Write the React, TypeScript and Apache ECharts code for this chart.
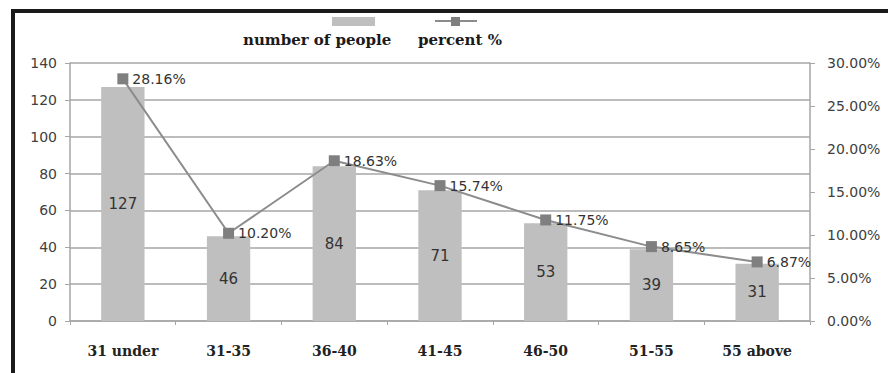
import React, { useEffect, useRef } from "react";
import * as echarts from "echarts";

const categories = ["31 under", "31-35", "36-40", "41-45", "46-50", "51-55", "55 above"];
const peopleCounts = [127, 46, 84, 71, 53, 39, 31];
const percentValues = [28.16, 10.2, 18.63, 15.74, 11.75, 8.65, 6.87];
const leftTicks = { min: 0, max: 140, interval: 20 };
const rightTicks = { min: 0, max: 30, interval: 5 };

export default function App() {
  const ref = useRef<HTMLDivElement>(null);
  useEffect(() => {
    if (!ref.current) return;
    const chart = echarts.init(ref.current, null, { renderer: "svg" });
    const axisGray = "#a6a6a6";
    const labelColor = "#404040";
    const sans = "'DejaVu Sans', sans-serif";
    const serif = "'DejaVu Serif', serif";
    chart.setOption({
      animation: false,
      backgroundColor: "#ffffff",
      grid: { left: 70, right: 78, top: 63, bottom: 52, containLabel: false },
      xAxis: {
        type: "category",
        data: categories,
        axisLine: { show: true, lineStyle: { color: axisGray, width: 1.5 } },
        axisTick: { show: true, length: 4, lineStyle: { color: axisGray } },
        axisLabel: {
          color: "#222",
          fontFamily: serif,
          fontWeight: "bold",
          fontSize: 14,
          margin: 23,
        },
        splitLine: { show: false },
      },
      yAxis: [
        {
          type: "value",
          ...leftTicks,
          axisLine: { show: true, lineStyle: { color: axisGray, width: 1.5 } },
          axisTick: { show: true, length: 5, lineStyle: { color: axisGray } },
          axisLabel: { color: labelColor, fontFamily: sans, fontSize: 14, margin: 13 },
          splitLine: { show: true, lineStyle: { color: axisGray, width: 1.5 } },
        },
        {
          type: "value",
          ...rightTicks,
          position: "right",
          axisLine: { show: true, lineStyle: { color: axisGray, width: 1.5 } },
          axisTick: { show: true, length: 5, lineStyle: { color: axisGray } },
          axisLabel: {
            color: labelColor,
            fontFamily: sans,
            fontSize: 14,
            margin: 17,
            formatter: (v: number) => v.toFixed(2) + "%",
          },
          splitLine: { show: false },
        },
      ],
      series: [
        {
          name: "number of people",
          type: "bar",
          data: peopleCounts,
          barWidth: "41%",
          itemStyle: { color: "#bfbfbf" },
          label: {
            show: true,
            position: "inside",
            color: "#333",
            fontFamily: sans,
            fontSize: 15,
          },
        },
        {
          name: "percent %",
          type: "line",
          yAxisIndex: 1,
          data: percentValues,
          symbol: "rect",
          symbolSize: 11,
          itemStyle: { color: "#7f7f7f" },
          lineStyle: { color: "#8c8c8c", width: 2 },
          label: {
            show: true,
            position: "right",
            distance: 4,
            color: "#333",
            fontFamily: sans,
            fontSize: 14,
            formatter: (p: any) => Number(p.value).toFixed(2) + "%",
          },
          z: 5,
        },
      ],
      graphic: [
        { type: "rect", shape: { x: 11, y: 9, width: 877, height: 4 }, style: { fill: "#1a1a1a" } },
        { type: "rect", shape: { x: 11, y: 9, width: 4, height: 364 }, style: { fill: "#1a1a1a" } },
        { type: "rect", shape: { x: 332, y: 17, width: 43, height: 9 }, style: { fill: "#bfbfbf" } },
        {
          type: "text",
          x: 243,
          y: 40,
          style: {
            text: "number of people",
            fill: "#1a1a1a",
            font: "bold 15px 'DejaVu Serif', serif",
            verticalAlign: "middle",
          },
        },
        { type: "line", shape: { x1: 435, y1: 21, x2: 477, y2: 21 }, style: { stroke: "#8c8c8c", lineWidth: 2 } },
        { type: "rect", shape: { x: 451, y: 17, width: 9, height: 9 }, style: { fill: "#7f7f7f" } },
        {
          type: "text",
          x: 418,
          y: 40,
          style: {
            text: "percent %",
            fill: "#1a1a1a",
            font: "bold 15px 'DejaVu Serif', serif",
            verticalAlign: "middle",
          },
        },
      ],
    });
    return () => chart.dispose();
  }, []);
  return (
    <div
      ref={ref}
      style={{ position: "fixed", left: 0, top: 0, width: 888, height: 373 }}
    />
  );
}
